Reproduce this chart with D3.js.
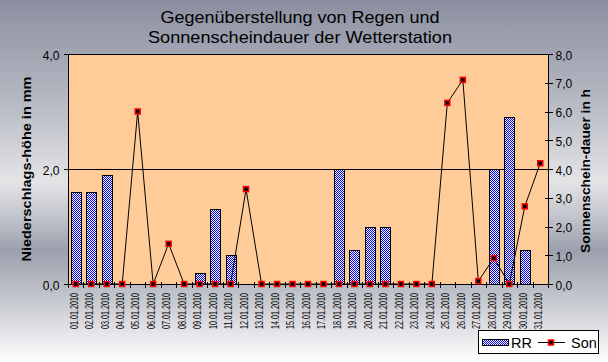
<!DOCTYPE html>
<html><head><meta charset="utf-8">
<script src="https://cdn.jsdelivr.net/npm/d3@7"></script>
<style>body{margin:0;padding:0;overflow:hidden}svg{display:block}text{font-family:Arial,"Liberation Sans",sans-serif}</style>
</head><body>
<script>
const dates = ["01.01.2010","02.01.2010","03.01.2010","04.01.2010","05.01.2010","06.01.2010","07.01.2010","08.01.2010","09.01.2010","10.01.2010","11.01.2010","12.01.2010","13.01.2010","14.01.2010","15.01.2010","16.01.2010","17.01.2010","18.01.2010","19.01.2010","20.01.2010","21.01.2010","22.01.2010","23.01.2010","24.01.2010","25.01.2010","26.01.2010","27.01.2010","28.01.2010","29.01.2010","30.01.2010","31.01.2010"];
const rr  = [1.6,1.6,1.9,0,0,0,0,0,0.2,1.3,0.5,0,0,0,0,0,0,2.0,0.6,1.0,1.0,0,0,0,0,0,0,2.0,2.9,0.6,0];
const son = [0,0,0,0,6.0,0,1.4,0,0,0,0,3.3,0,0,0,0,0,0,0,0,0,0,0,0,6.3,7.1,0.1,0.9,0,2.7,4.2];
const leftTicks = [0,2,4];
const rightTicks = [0,1,2,3,4,5,6,7,8];
const titleLines = ["Gegenüberstellung von Regen und","Sonnenscheindauer der Wetterstation"];
const leftTitle = "Niederschlags-höhe in mm";
const rightTitle = "Sonnenschein-dauer in h";
const seriesNames = ["RR","Son"];

const W=608,H=362;
const L=68,R=548,T=54,B=284;
const svg=d3.select("body").append("svg").attr("width",W).attr("height",H);
const defs=svg.append("defs");
const grad=defs.append("linearGradient").attr("id","bg").attr("x1",0).attr("y1",0).attr("x2",0).attr("y2",1);
[[0,"#8a8e9f"],[0.11,"#9ca0ae"],[0.28,"#b6b9c3"],[0.5,"#e4e4e7"],[0.6,"#c2c4cc"],[0.69,"#9ca0ad"],[0.8,"#bcbfc7"],[1,"#ffffff"]]
 .forEach(s=>grad.append("stop").attr("offset",s[0]).attr("stop-color",s[1]));
const pat=defs.append("pattern").attr("id","chk").attr("width",2).attr("height",2).attr("patternUnits","userSpaceOnUse");
pat.append("rect").attr("width",2).attr("height",2).attr("fill","#ffffff");
pat.append("rect").attr("x",0).attr("y",0).attr("width",1).attr("height",1).attr("fill","#0000ff");
pat.append("rect").attr("x",1).attr("y",1).attr("width",1).attr("height",1).attr("fill","#0000ff");

svg.append("rect").attr("width",W).attr("height",H).attr("fill","url(#bg)");

const x=d3.scaleBand().domain(dates).range([L,R]).paddingInner(0.35).paddingOuter(0.175);
const yL=d3.scaleLinear().domain([0,4]).range([B,T]);
const yR=d3.scaleLinear().domain([0,8]).range([B,T]);
const loc=d3.formatLocale({decimal:",",thousands:".",grouping:[3],currency:["","€"]});
const fmt=loc.format(".1f");

svg.append("rect").attr("x",L).attr("y",T).attr("width",R-L).attr("height",B-T).attr("fill","#ffcc99");
// gridline
svg.append("g").selectAll("line").data([2]).join("line")
 .attr("x1",L).attr("x2",R).attr("y1",d=>yL(d)).attr("y2",d=>yL(d)).attr("stroke","#000").attr("shape-rendering","crispEdges");

// bars
svg.append("g").selectAll("rect").data(rr.map((v,i)=>({d:dates[i],v}))).join("rect")
 .filter(d=>d.v>0)
 .attr("x",d=>Math.round(x(d.d))+0.5).attr("y",d=>Math.round(yL(d.v))+0.5)
 .attr("width",d=>Math.round(x.bandwidth())).attr("height",d=>Math.round(yL(0))-Math.round(yL(d.v)))
 .attr("fill","url(#chk)").attr("stroke","#000").attr("stroke-width",1);

svg.append("rect").attr("x",L+0.5).attr("y",T+0.5).attr("width",R-L).attr("height",B-T).attr("fill","none").attr("stroke","#000");

// line
const cx=d=>x(d)+x.bandwidth()/2;
const pts=son.map((v,i)=>({d:dates[i],v}));
svg.append("path").datum(pts).attr("fill","none").attr("stroke","#000").attr("stroke-width",1)
 .attr("d",d3.line().x(p=>cx(p.d)).y(p=>yR(p.v)));
svg.append("g").selectAll("rect").data(pts).join("rect")
 .attr("x",p=>cx(p.d)-2.5).attr("y",p=>yR(p.v)-2.5).attr("width",5).attr("height",5)
 .attr("fill","#000").attr("stroke","#ff0000").attr("stroke-width",1.5);

// left axis
const ga=svg.append("g").attr("transform",`translate(${L+0.5},0)`)
 .call(d3.axisLeft(yL).tickValues(leftTicks).tickFormat(fmt).tickSizeInner(5).tickSizeOuter(0).tickPadding(4));
ga.select(".domain").remove();
ga.selectAll("line").attr("stroke","#000").attr("shape-rendering","crispEdges");
ga.selectAll("text").attr("font-size",12).attr("fill","#000").attr("dy","0.42em").attr("font-family","Arial,'Liberation Sans',sans-serif");

// right axis
const gr=svg.append("g").attr("transform",`translate(${R+0.5},0)`)
 .call(d3.axisRight(yR).tickValues(rightTicks).tickFormat(fmt).tickSizeInner(4).tickSizeOuter(0).tickPadding(3));
gr.select(".domain").remove();
gr.selectAll("line").attr("x1",-4).attr("stroke","#000").attr("shape-rendering","crispEdges");
gr.selectAll("text").attr("font-size",12).attr("fill","#000").attr("dy","0.42em").attr("font-family","Arial,'Liberation Sans',sans-serif");

// bottom boundary ticks
const xb=d3.scaleLinear().domain([0,dates.length]).range([L,R]);
const gt=svg.append("g").attr("transform",`translate(0,${B+0.5})`)
 .call(d3.axisBottom(xb).tickValues(d3.range(dates.length+1)).tickSize(3).tickFormat(""));
gt.select(".domain").remove();
gt.selectAll("line").attr("y1",-3).attr("stroke","#000").attr("shape-rendering","crispEdges");

// bottom labels
const gx=svg.append("g").attr("transform",`translate(0,${B})`)
 .call(d3.axisBottom(x).tickSize(0));
gx.select(".domain").remove();
gx.selectAll("text").attr("font-size",10.5).attr("fill","#000").attr("x",0).attr("y",0).attr("dy",0)
 .attr("text-anchor","end").attr("transform","translate(1.8,9) rotate(-90)")
 .attr("textLength",36).attr("lengthAdjust","spacingAndGlyphs").attr("font-family","Arial,'Liberation Sans',sans-serif");

// titles
svg.append("g").selectAll("text").data(titleLines).join("text")
 .attr("x",300).attr("y",(d,i)=>23+i*20).attr("text-anchor","middle").attr("font-size",16.5)
 .attr("textLength",(d,i)=>i?304:279).attr("lengthAdjust","spacingAndGlyphs").attr("fill","#000").text(d=>d);
svg.append("text").attr("transform","translate(31,169) rotate(-90)").attr("text-anchor","middle")
 .attr("font-size",13).attr("font-weight","bold").attr("textLength",185).attr("lengthAdjust","spacingAndGlyphs").text(leftTitle);
svg.append("text").attr("transform","translate(590,171) rotate(-90)").attr("text-anchor","middle")
 .attr("font-size",13).attr("font-weight","bold").attr("textLength",164).attr("lengthAdjust","spacingAndGlyphs").text(rightTitle);

// legend
const lg=svg.append("g");
lg.append("rect").attr("x",478.5).attr("y",330.5).attr("width",120).attr("height",23).attr("fill","#fff").attr("stroke","#000");
lg.append("rect").attr("x",482.5).attr("y",339.5).attr("width",26).attr("height",6).attr("fill","url(#chk)").attr("stroke","#000");
lg.append("text").attr("x",511).attr("y",347.5).attr("font-size",14.5).text(seriesNames[0]);
lg.append("line").attr("x1",538).attr("x2",565).attr("y1",342.5).attr("y2",342.5).attr("stroke","#000");
lg.append("rect").attr("x",548.5).attr("y",340).attr("width",5).attr("height",5).attr("fill","#000").attr("stroke","#ff0000").attr("stroke-width",1.5);
lg.append("text").attr("x",571).attr("y",347.5).attr("font-size",14.5).text(seriesNames[1]);
</script>
</body></html>
